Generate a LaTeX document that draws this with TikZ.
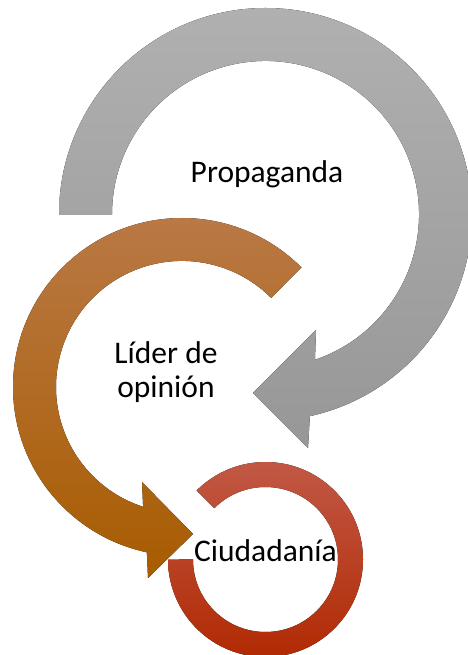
\documentclass[tikz,border=0pt]{standalone}
\usepackage{fontspec}
\setmainfont{Carlito}
\usepackage{tikz}
\usepackage{xcolor}
\definecolor{grtop}{HTML}{B0B0B0}
\definecolor{grbot}{HTML}{979797}
\definecolor{ortop}{HTML}{BA7A48}
\definecolor{ormid}{HTML}{B46600}
\definecolor{orbot}{HTML}{A85C00}
\definecolor{rdtop}{HTML}{C25A48}
\definecolor{rdmid}{HTML}{BA3810}
\definecolor{rdbot}{HTML}{B02800}
\tikzset{
  grayband/.style={draw=none, top color=grtop, bottom color=grbot},
  orangeband/.style={draw=none, top color=ortop, middle color=ormid, bottom color=orbot},
  redband/.style={draw=none, top color=rdtop, middle color=rdmid, bottom color=rdbot},
  lbl/.style={font=\fontsize{31.5}{34}\selectfont, align=center, text=black, inner sep=0pt},
}

\begin{document}
\begin{tikzpicture}[x=1pt, y=1pt]
  \useasboundingbox (0,0) rectangle (467,655);
  % gray circular arrow: centre (265.5,440.5), radii 206.5 / 153.5
  \fill[grayband] (59,440.5) arc[start angle=180, end angle=-77.6, radius=206.5]
    -- (308,207) -- (253,262) -- (316,325)
    -- (314.97,295.2) arc[start angle=-71.2, end angle=180, radius=153.5] -- cycle;
  % orange circular arrow: centre (182,268), radii 169 / 126
  \fill[orangeband] (301.5,387.5) arc[start angle=45, end angle=258, radius=169]
    -- (148,77) -- (193,121) -- (142,173)
    -- (143.1,148.2) arc[start angle=252, end angle=45, radius=126] -- cycle;
  % red ring: centre (265.5,95.5), radii 97.5 / 72.5
  \fill[redband] (196.56,164.44) arc[start angle=135, end angle=-180, radius=97.5]
    -- (193,95.5) arc[start angle=-180, end angle=135, radius=72.5] -- cycle;
  % labels
  \node[lbl, anchor=base] (propaganda) at (267,472) {Propaganda};
  \node[lbl] (lider) at (166,282.5) {Líder de\\opinión};
  \node[lbl, anchor=base] (ciudadania) at (265.5,93.3) {Ciudadanía};
\end{tikzpicture}
\end{document}
